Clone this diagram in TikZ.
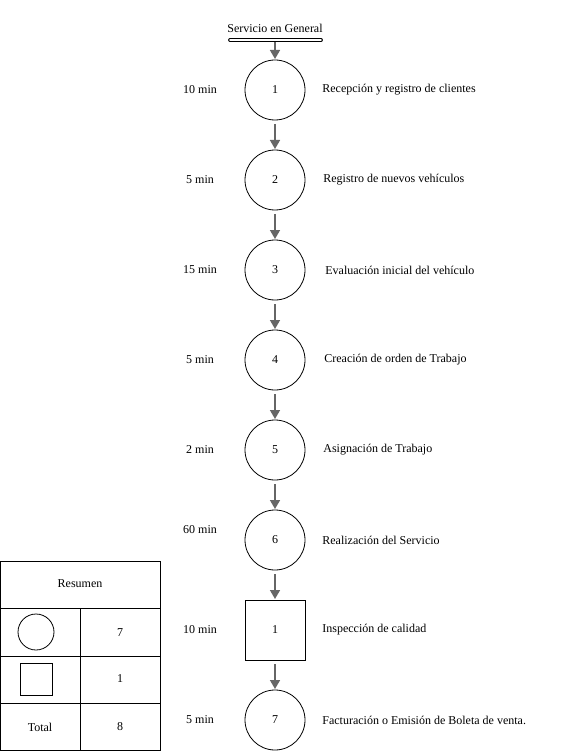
\documentclass[tikz,border=0pt]{standalone}
\usepackage{fontspec}
\setmainfont{Liberation Serif}
\usetikzlibrary{arrows.meta,positioning}
\begin{document}
\begin{tikzpicture}[x=1pt,y=-1pt,font=\fontsize{12}{14}\selectfont,
    node distance=30pt,line width=0.8pt,
    oper/.style={draw,circle,minimum size=60pt,inner sep=0pt,outer sep=0pt},
    insp/.style={draw,rectangle,minimum size=60pt,inner sep=0pt,outer sep=0pt},
    flow/.style={draw=black!60,line width=1.6pt,-{Triangle[width=10pt,length=9pt]},shorten <=4pt,shorten >=1pt},
    tiempo/.style={anchor=center},
    tarea/.style={anchor=west,inner sep=0pt}]
    \useasboundingbox (0,0) rectangle (563,751);
    % titulo
    \node (titulo) at (275,28) {Servicio en General};
    \draw[double,double distance=1.8pt,line width=1pt,line cap=round] (230,40) coordinate (tl) -- (321,40) coordinate (tr);
    \coordinate (tm) at (275,40);
    % actividades
    \node[oper] (c1) at (275,90) {1};
    \node[oper,below=of c1] (c2) {2};
    \node[oper,below=of c2] (c3) {3};
    \node[oper,below=of c3] (c4) {4};
    \node[oper,below=of c4] (c5) {5};
    \node[oper,below=of c5] (c6) {6};
    \node[insp,below=of c6] (q1) {1};
    \node[oper,below=of q1] (c7) {7};
    % tiempos
    \node[tiempo] (t1) at (200,90) {10 min};
    \node[tiempo] (t2) at (200,180) {5 min};
    \node[tiempo] (t3) at (200,270) {15 min};
    \node[tiempo] (t4) at (200,360) {5 min};
    \node[tiempo] (t5) at (200,450) {2 min};
    \node[tiempo] (t6) at (200,530) {60 min};
    \node[tiempo] (t7) at (200,630) {10 min};
    \node[tiempo] (t8) at (200,720) {5 min};
    % descripciones
    \node[tarea,right=17pt of c1] (d1) {Recepción y registro de clientes};
    \node[tarea,right=18pt of c2] (d2) {Registro de nuevos vehículos};
    \node[tarea,right=20pt of c3] (d3) {Evaluación inicial del vehículo};
    \node[tarea,right=19pt of c4] (d4) {Creación de orden de Trabajo};
    \node[tarea,right=18pt of c5] (d5) {Asignación de Trabajo};
    \node[tarea,right=17pt of c6] (d6) {Realización del Servicio};
    \node[tarea,right=17pt of q1] (d7) {Inspección de calidad};
    \node[tarea,right=17pt of c7] (d8) {Facturación o Emisión de Boleta de venta.};
    % flechas
    \draw[flow,shorten <=2pt,shorten >=1pt] (tm) -- (c1);
    \draw[flow] (c1) -- (c2);
    \draw[flow] (c2) -- (c3);
    \draw[flow] (c3) -- (c4);
    \draw[flow] (c4) -- (c5);
    \draw[flow] (c5) -- (c6);
    \draw[flow] (c6) -- (q1);
    \draw[flow] (q1) -- (c7);
    % resumen
    \draw (0.5,561) rectangle (160,750.5);
    \draw (0.5,608) -- (160,608);
    \draw (0.5,656) -- (160,656);
    \draw (0.5,703) -- (160,703);
    \draw (80,608) -- (80,750.5);
    \node (resumen) at (80,584) {Resumen};
    \node[draw,circle,minimum size=36pt,inner sep=0pt] (rc) at (36,632) {};
    \node[draw,rectangle,minimum size=32pt,inner sep=0pt] (rq) at (36,679) {};
    \node (n1) at (120,633) {7};
    \node (n2) at (120,679) {1};
    \node (total) at (40,727) {Total};
    \node (n3) at (120,727) {8};
\end{tikzpicture}
\end{document}
